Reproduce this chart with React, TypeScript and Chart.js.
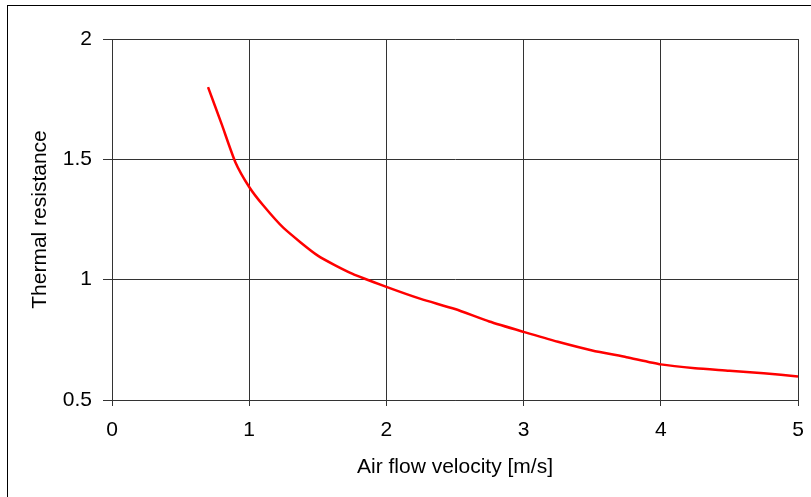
import React, { useEffect, useRef } from "react";
import { Chart, registerables } from "chart.js";

Chart.register(...registerables);

const velocity = [0.7, 0.8, 0.9, 1.0, 1.1, 1.25, 1.5, 1.75, 2.0, 2.25, 2.5, 2.75, 3.0, 3.25, 3.5, 3.75, 4.0, 4.25, 4.5, 4.75, 5.0];
const resistance = [1.8, 1.645, 1.487, 1.385, 1.31, 1.215, 1.1, 1.025, 0.97, 0.92, 0.878, 0.826, 0.783, 0.742, 0.706, 0.678, 0.648, 0.632, 0.622, 0.611, 0.598];
const xTitle = "Air flow velocity [m/s]";
const yTitle = "Thermal resistance";

const FONT = "'Liberation Sans', Arial, sans-serif";
const GRID = "#333333";

const frame = {
  id: "frame",
  beforeDraw(chart: any) {
    const ctx = chart.ctx;
    ctx.save();
    ctx.fillStyle = "#ffffff";
    ctx.fillRect(0, 0, chart.width, chart.height);
    ctx.strokeStyle = "#000000";
    ctx.lineWidth = 1;
    ctx.strokeRect(7.5, 5.5, chart.width + 10, chart.height + 10);
    ctx.restore();
  },
};

export default function App() {
  const ref = useRef<HTMLCanvasElement | null>(null);
  useEffect(() => {
    document.body.style.margin = "0";
    const data = velocity.map((v, i) => ({ x: v, y: resistance[i] }));
    const chart = new Chart(ref.current as HTMLCanvasElement, {
      type: "line",
      data: {
        datasets: [
          {
            data,
            borderColor: "#ff0000",
            borderWidth: 2.5,
            pointRadius: 0,
            tension: 0.2,
            fill: false,
          },
        ],
      },
      plugins: [frame],
      options: {
        animation: false,
        responsive: false,
        events: [],
        layout: { padding: { left: 0, top: 39, right: 13, bottom: 0 } },
        plugins: { legend: { display: false }, tooltip: { enabled: false } },
        scales: {
          x: {
            type: "linear",
            min: 0,
            max: 5,
            afterFit: (s: any) => { s.height = 97; s.paddingLeft = 0; s.paddingRight = 0; },
            ticks: { stepSize: 1, color: "#000", font: { family: FONT, size: 21 }, padding: 12, maxRotation: 0 },
            grid: { color: GRID, lineWidth: 1, tickLength: 6 },
            border: { color: GRID },
            title: { display: true, text: xTitle, color: "#000", font: { family: FONT, size: 21 }, padding: { top: 0, bottom: 17 } },
          },
          y: {
            type: "linear",
            min: 0.5,
            max: 2,
            afterFit: (s: any) => { s.width = 112; s.paddingTop = 0; s.paddingBottom = 0; },
            ticks: { stepSize: 0.5, color: "#000", font: { family: FONT, size: 21 }, padding: 11, callback: (v: any) => String(v) },
            grid: { color: GRID, lineWidth: 1, tickLength: 9 },
            border: { color: GRID },
            title: { display: true, text: yTitle, color: "#000", font: { family: FONT, size: 21 }, padding: { top: 28, bottom: 0 } },
          },
        },
      },
    });
    return () => chart.destroy();
  }, []);
  return <canvas ref={ref} width={811} height={497} style={{ display: "block" }} />;
}
